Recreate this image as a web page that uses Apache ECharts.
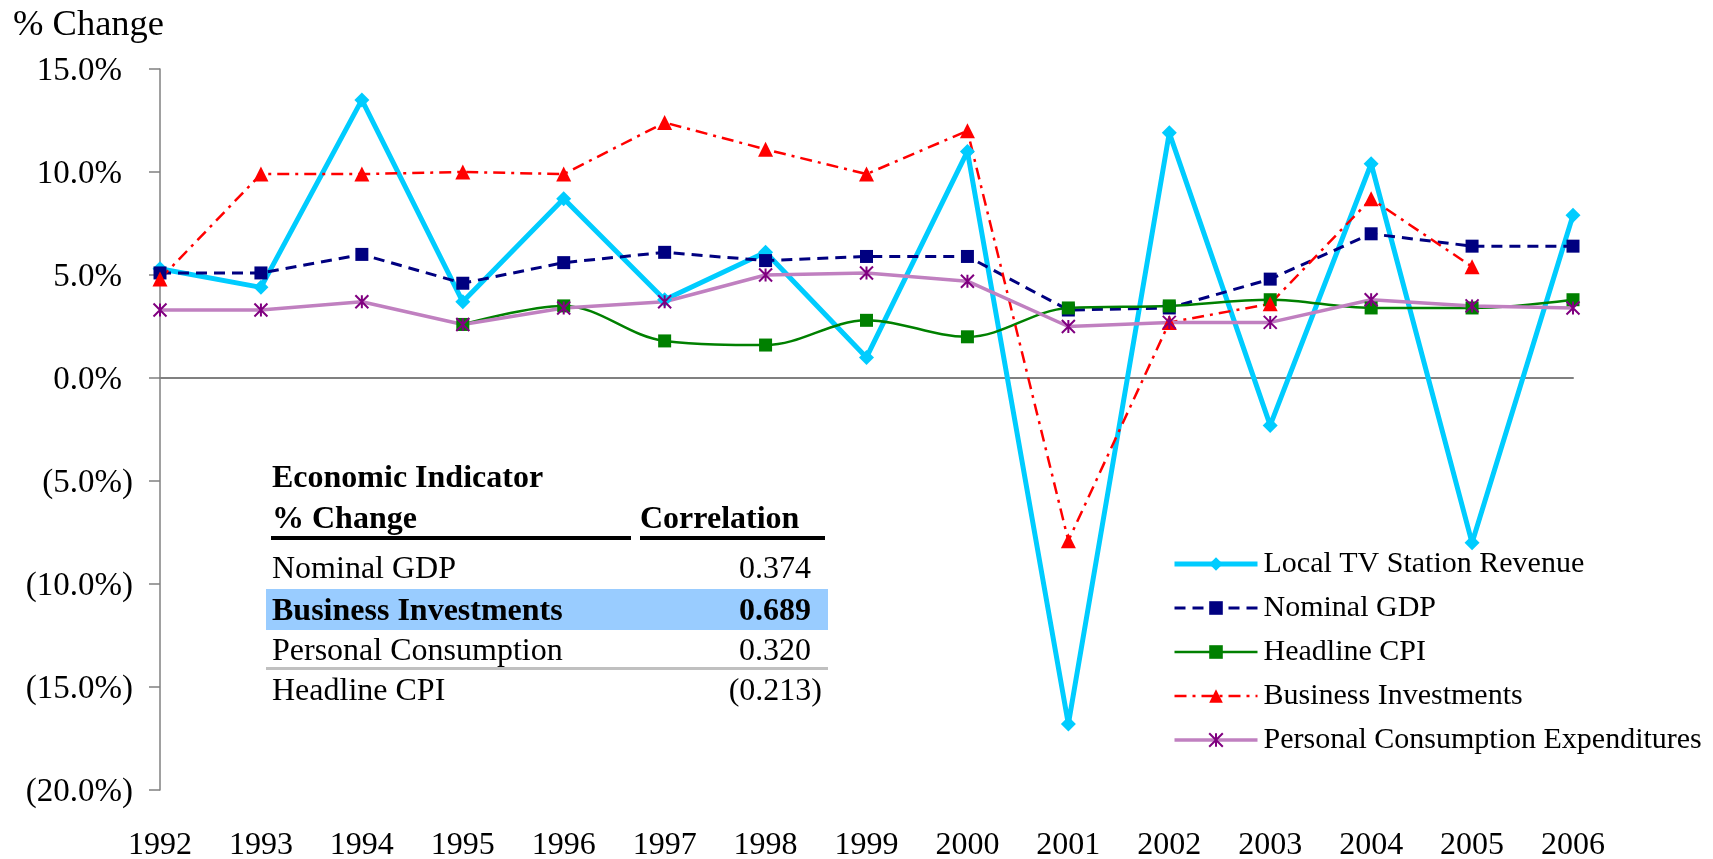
<!DOCTYPE html>
<html>
<head>
<meta charset="utf-8">
<script src="https://cdn.jsdelivr.net/npm/echarts@6/dist/echarts.min.js"></script>
<style>
html,body{margin:0;padding:0;background:#fff;}
#chart{width:1713px;height:859px;}
</style>
</head>
<body>
<div id="chart"></div>
<script>
const years = ['1992','1993','1994','1995','1996','1997','1998','1999','2000','2001','2002','2003','2004','2005','2006'];
const tvRevenue   = [5.3, 4.4, 13.5, 3.7, 8.7, 3.8, 6.1, 1.0, 11.0, -16.8, 11.9, -2.3, 10.4, -8.0, 7.9];
const nominalGDP  = [5.1, 5.1, 6.0, 4.6, 5.6, 6.1, 5.7, 5.9, 5.9, 3.3, 3.4, 4.8, 7.0, 6.4, 6.4];
const headlineCPI = [null, null, null, 2.6, 3.5, 1.8, 1.6, 2.8, 2.0, 3.4, 3.5, 3.8, 3.4, 3.4, 3.8];
const businessInv = [4.8, 9.9, 9.9, 10.0, 9.9, 12.4, 11.1, 9.9, 12.0, -7.9, 2.7, 3.6, 8.7, 5.4, null];
const pceValues   = [3.3, 3.3, 3.7, 2.6, 3.4, 3.7, 5.0, 5.1, 4.7, 2.5, 2.7, 2.7, 3.8, 3.5, 3.4];
const seriesNames = ['Local TV Station Revenue','Nominal GDP','Headline CPI','Business Investments','Personal Consumption Expenditures'];

const tableIndicators  = ['Nominal GDP','Business Investments','Personal Consumption','Headline CPI'];
const tableCorrelation = [0.374, 0.689, 0.320, -0.213];
const highlightedRow = 1;

const FONT = '"Liberation Serif","Times New Roman",serif';
const chart = echarts.init(document.getElementById('chart'));

function fmtCorr(v){ return v < 0 ? '(' + Math.abs(v).toFixed(3) + ')' : v.toFixed(3); }

const graphics = [];
graphics.push({type:'text', x:13, y:25, style:{text:'% Change', font:'36.5px ' + FONT, fill:'#000', verticalAlign:'middle', align:'left'}});
// table
graphics.push({type:'rect', shape:{x:266, y:589, width:562, height:41}, style:{fill:'#99CCFF'}, z:1});
graphics.push({type:'text', x:272, y:479, style:{text:'Economic Indicator', font:'bold 32px ' + FONT, fill:'#000', verticalAlign:'middle'}, z:2});
graphics.push({type:'text', x:272, y:520, style:{text:'% Change', font:'bold 32px ' + FONT, fill:'#000', verticalAlign:'middle'}, z:2});
graphics.push({type:'text', x:640, y:520, style:{text:'Correlation', font:'bold 32px ' + FONT, fill:'#000', verticalAlign:'middle'}, z:2});
graphics.push({type:'rect', shape:{x:271, y:536, width:360, height:4}, style:{fill:'#000'}, z:2});
graphics.push({type:'rect', shape:{x:640, y:536, width:185, height:4}, style:{fill:'#000'}, z:2});
graphics.push({type:'rect', shape:{x:266, y:667, width:562, height:3}, style:{fill:'#C0C0C0'}, z:2});
const rowY = [570, 612, 652, 692];
tableIndicators.forEach(function(name, i){
  const w = i === highlightedRow ? 'bold ' : '';
  graphics.push({type:'text', x:272, y:rowY[i], style:{text:name, font:w + '32px ' + FONT, fill:'#000', verticalAlign:'middle'}, z:2});
  const v = tableCorrelation[i];
  graphics.push({type:'text', x: v < 0 ? 822 : 811, y:rowY[i], style:{text:fmtCorr(v), font:w + '32px ' + FONT, fill:'#000', verticalAlign:'middle', align:'right'}, z:2});
});

const option = {
  animation:false,
  backgroundColor:'#fff',
  grid:{left:160, right:140, top:69, bottom:69, containLabel:false, outerBoundsMode:'none'},
  legend:{
    data:seriesNames, orient:'vertical', left:1167, top:544,
    itemWidth:83, itemHeight:17, itemGap:14, selectedMode:false,
    lineStyle:{width:'inherit', type:'inherit'},
    textStyle:{fontFamily:FONT, fontSize:30, color:'#000', lineHeight:30, padding:[0,0,0,1]}
  },
  xAxis:[{
    type:'category', data:years, boundaryGap:false,
    axisLine:{show:false, onZero:false}, axisTick:{show:false},
    axisLabel:{fontFamily:FONT, fontSize:32, color:'#000', margin:40},
    splitLine:{show:false}
  },{
    type:'category', data:years, boundaryGap:false, position:'bottom',
    axisLine:{show:true, onZero:true, lineStyle:{color:'#808080', width:2}},
    axisTick:{show:false}, axisLabel:{show:false}, splitLine:{show:false}
  }],
  yAxis:{
    type:'value', min:-20, max:15, interval:5,
    axisLine:{show:true, lineStyle:{color:'#808080', width:1.5}},
    axisTick:{show:true, inside:false, length:11, lineStyle:{color:'#808080', width:1.5}},
    splitLine:{show:false},
    axisLabel:{
      margin:27, color:'#000',
      formatter:function(v){
        if (v >= 0) return '{p|' + v.toFixed(1) + '%}{h|)}';
        return '{p|(' + Math.abs(v).toFixed(1) + '%)}';
      },
      rich:{
        p:{fontFamily:FONT, fontSize:33, color:'#000', padding:[4,0,0,0]},
        h:{fontFamily:FONT, fontSize:33, color:'rgba(0,0,0,0)', padding:[4,0,0,0]}
      }
    }
  },
  series:[
    {name:seriesNames[0], type:'line', data:tvRevenue, symbol:'diamond', symbolSize:15,
     lineStyle:{color:'#00CCFF', width:5}, itemStyle:{color:'#00CCFF'}},
    {name:seriesNames[1], type:'line', data:nominalGDP, symbol:'rect', symbolSize:13,
     lineStyle:{color:'#000080', width:3, type:[11,7]}, itemStyle:{color:'#000080'}},
    {name:seriesNames[2], type:'line', data:headlineCPI, symbol:'rect', symbolSize:13, smooth:0.35,
     lineStyle:{color:'#008000', width:2.5}, itemStyle:{color:'#008000'}},
    {name:seriesNames[3], type:'line', data:businessInv, symbol:'triangle', symbolSize:15,
     lineStyle:{color:'#FF0000', width:2.5, type:[12,6,3,6]}, itemStyle:{color:'#FF0000'}},
    {name:seriesNames[4], type:'line', data:pceValues,
     symbol:'path://M0,0L10,10M10,0L0,10M5,0L5,10', symbolSize:13,
     lineStyle:{color:'#C080C0', width:3.5}, itemStyle:{color:'#800080', borderColor:'#800080', borderWidth:2}}
  ],
  graphic:graphics
};
chart.setOption(option);
</script>
</body>
</html>
